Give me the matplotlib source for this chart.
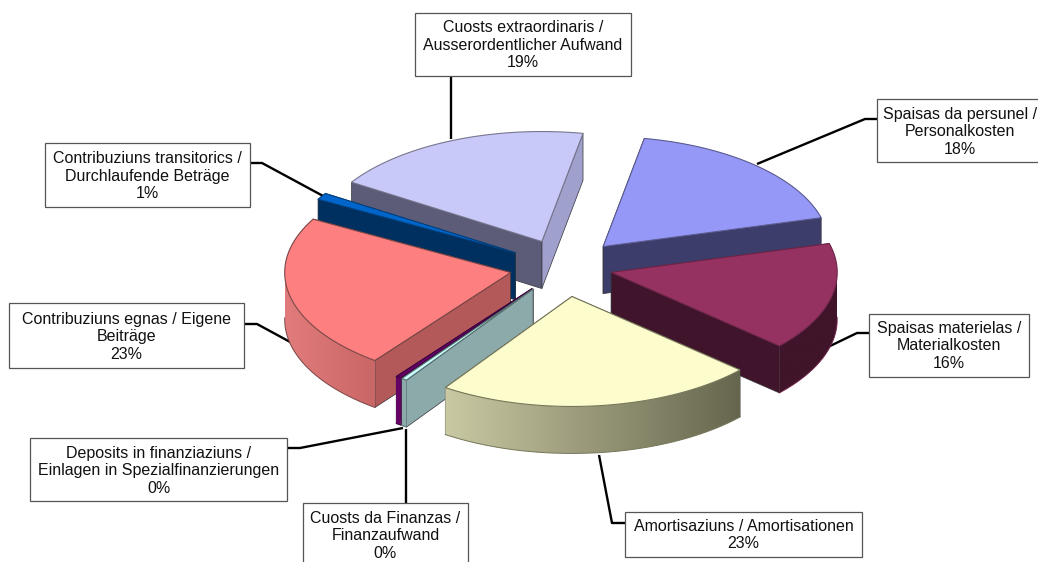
import numpy as np
import matplotlib
matplotlib.use("Agg")
import matplotlib.pyplot as plt
from matplotlib.colors import to_rgb
from matplotlib.patches import Polygon, Rectangle

# ---- data (clockwise from the start angle)
labels = [
    "Spaisas da persunel /\nPersonalkosten\n18%",
    "Spaisas materielas /\nMaterialkosten\n16%",
    "Amortisaziuns / Amortisationen\n23%",
    "Cuosts da Finanzas /\nFinanzaufwand\n0%",
    "Deposits in finanziaziuns /\nEinlagen in Spezialfinanzierungen\n0%",
    "Contribuziuns egnas / Eigene\nBeiträge\n23%",
    "Contribuziuns transitorics /\nDurchlaufende Beträge\n1%",
    "Cuosts extraordinaris /\nAusserordentlicher Aufwand\n19%",
]
values = [18, 16, 23, 0.4, 0.4, 23, 1, 19]

# ---- styles
top_colors = ["#9698f8", "#953262", "#fcfccd", "#ccffff", "#660066", "#fd7f7f", "#0066cc", "#c9c9f9"]
edge_colors = ["#5a5a90", "#6e2448", "#77775a", "#556e6e", "#3c003c", "#7a4545", "#00407f", "#77778f"]
start_wall = ["#3d3d6b", "#40142a", "#77775c", "#8caaaa", "#660066", "#b35959", "#00305f", "#5c5c78"]
end_wall = ["#3d3d6b", "#40142a", "#77775c", "#8caaaa", "#660066", "#b35959", "#00305f", "#a0a0cc"]
rim_left = ["#3d3d6b", "#40142a", "#c9c9a3", "#8caaaa", "#660066", "#e27c7c", "#00305f", "#5c5c78"]
rim_right = ["#3d3d6b", "#40142a", "#66664e", "#8caaaa", "#660066", "#c96666", "#00305f", "#5c5c78"]
explode = [57, 48, 61, 55, 55, 55, 57, 57]

START = 10.5      # degrees clockwise from north
CX, CY = 564.5, 267.0
RX, RY = 226.0, 110.0
DEPTH = 47.0

# ---- label layout in pixels: box (x0, y0, x1, y1), text centre y, leader polyline
boxes = [
    (877, 99, 1043, 162), (869, 314, 1029, 377), (625, 512, 862, 557),
    (303, 503, 468, 575), (30, 438, 287, 501), (9, 303, 244, 368),
    (45, 143, 250, 207), (415, 13, 631, 76),
]
text_y = [132, 346, 535, 536, 471, 337, 176, 45]
leaders = [
    [(757, 164), (865, 119), (877, 119)],
    [(828, 347), (857, 333), (869, 333)],
    [(599, 455), (612, 523), (625, 523)],
    [(406, 429), (406, 503)],
    [(403, 428), (300, 448), (287, 448)],
    [(292, 343), (257, 324), (244, 324)],
    [(325, 197), (262, 163), (250, 163)],
    [(451, 139), (451, 76)],
]

plt.rcParams["font.family"] = ["Liberation Sans", "DejaVu Sans"]
fig = plt.figure(figsize=(10.38, 5.62), dpi=100, facecolor="white")
ax = fig.add_axes([0, 0, 1, 1])
ax.axis("off")

for line in leaders:
    xs, ys = zip(*line)
    ax.plot(xs, ys, color="black", lw=1.7, zorder=1, solid_capstyle="butt")

fracs = np.array(values, dtype=float)
fracs = fracs / fracs.sum() * 360.0
starts = START + np.concatenate([[0], np.cumsum(fracs)[:-1]])
ends = starts + fracs
mids = (starts + ends) / 2


def pt(theta, apex):
    t = np.radians(theta)
    return apex[0] + RX * np.sin(t), apex[1] - RY * np.cos(t)


order = np.argsort(-np.cos(np.radians(mids)))
z = 2.0
for i in order:
    tm = np.radians(mids[i])
    apex = (CX + explode[i] * np.sin(tm), CY - explode[i] * RY / RX * np.cos(tm))
    thetas = np.linspace(starts[i], ends[i], max(int(fracs[i] * 3), 3))
    arc = np.array([pt(t, apex) for t in thetas])

    # radial walls, the farther one first
    walls = [(starts[i], start_wall[i]), (ends[i], end_wall[i])]
    walls.sort(key=lambda w: -np.cos(np.radians(w[0])))
    for theta, col in walls:
        p = pt(theta, apex)
        quad = [apex, p, (p[0], p[1] + DEPTH), (apex[0], apex[1] + DEPTH)]
        ax.add_patch(Polygon(quad, closed=True, fc=col, ec="#33333a", lw=0.5, zorder=z))
        z += 0.01

    # outer rim: only the part that faces the viewer, with a left-to-right gradient
    front = np.cos(np.radians(thetas)) <= 0.02
    if front.sum() >= 2:
        rim = arc[front]
        outline = np.vstack([rim, rim[::-1] + [0, DEPTH]])
        patch = Polygon(outline, closed=True, fc="none", ec="none", transform=ax.transData)
        ax.add_patch(patch)
        grad = np.linspace(np.array(to_rgb(rim_left[i])), np.array(to_rgb(rim_right[i])), 256)[None, :, :]
        im = ax.imshow(grad, extent=(rim[:, 0].min(), rim[:, 0].max(), rim[:, 1].max() + DEPTH, rim[:, 1].min()),
                       aspect="auto", interpolation="bilinear", zorder=z)
        im.set_clip_path(patch)
        z += 0.01
        ax.plot(rim[:, 0], rim[:, 1] + DEPTH, color=edge_colors[i], lw=0.7, zorder=z)
        z += 0.01

    # top face
    ax.add_patch(Polygon(np.vstack([[apex], arc]), closed=True, fc=top_colors[i],
                         ec=edge_colors[i], lw=0.8, joinstyle="round", zorder=z))
    z += 0.01

for (x0, y0, x1, y1), yc, txt in zip(boxes, text_y, labels):
    ax.add_patch(Rectangle((x0, y0), x1 - x0, y1 - y0, fc="white", ec="#555555", lw=0.9, zorder=20))
    ax.text((x0 + x1) / 2, yc, txt, ha="center", va="center", fontsize=11.5,
            linespacing=1.2, color="#111111", zorder=21)

ax.set_xlim(0, 1038)
ax.set_ylim(562, 0)
fig.savefig("out.png", dpi=100)
